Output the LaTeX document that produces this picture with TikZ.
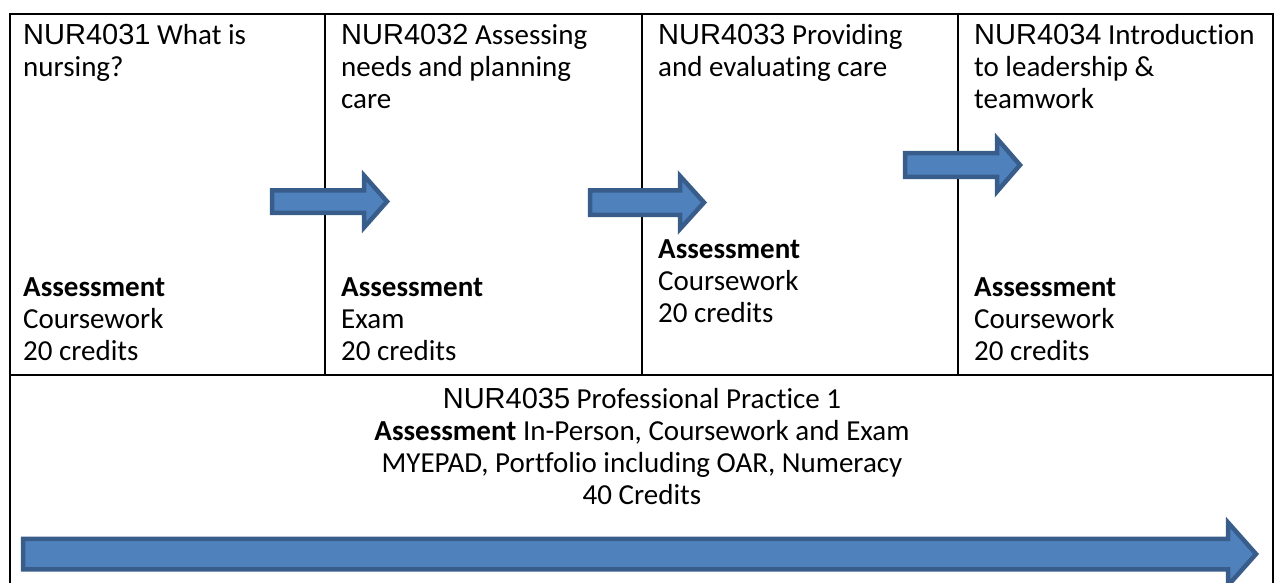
\documentclass[tikz,border=0pt]{standalone}
\usepackage{fontspec}
\setmainfont{Carlito}[Ligatures=NoCommon]
\newfontfamily\codefont{Liberation Sans}
\usepackage{tikz}

\definecolor{arrowfill}{RGB}{79,129,189}
\definecolor{arrowline}{RGB}{56,93,138}

\tikzset{
	rule/.style={line width=2pt, line cap=rect},
	cell/.style={anchor=base west, inner sep=0pt, align=left, font=\fontsize{29}{32}\selectfont},
	flow/.style={fill=arrowfill, draw=arrowline, line width=4.5pt, miter limit=10},
}

% left x, head base x, tip x, mid y, half body, half head
\newcommand{\flowarrow}[6]{%
	\draw[flow] (#1,#4-#5) -- (#2,#4-#5) -- (#2,#4-#6) -- (#3,#4)
		-- (#2,#4+#6) -- (#2,#4+#5) -- (#1,#4+#5) -- cycle;}

\begin{document}
\begin{tikzpicture}[x=1pt, y=-1pt]
	\useasboundingbox (0,0) rectangle (1277,583);
	\coordinate (tl) at (10, 14);
	\coordinate (tr) at (1273, 14);
	\coordinate (ml) at (10, 375);
	\coordinate (mr) at (1273, 375);
	\draw[rule] (10,590) -- (tl) -- (tr) -- (1273,590);
	\draw[rule] (ml) -- (mr);
	\foreach \x in {325, 642, 958}
		\draw[rule] (\x,14) -- (\x,375);
	% base = last line of each cell
	\node[cell] (m31) at (23, 77) {{\codefont NUR4031} What is\\nursing?};
	\node[cell] (m32) at (341, 109) {{\codefont NUR4032} Assessing\\needs and planning\\care};
	\node[cell] (m33) at (658, 77) {{\codefont NUR4033} Providing\\and evaluating care};
	\node[cell] (m34) at (974, 109) {{\codefont NUR4034} Introduction\\to leadership \&\\teamwork};
	%
	\node[cell] (a31) at (23, 360) {\textbf{Assessment}\\Coursework\\20 credits};
	\node[cell] (a32) at (341, 360) {\textbf{Assessment}\\Exam\\20 credits};
	\node[cell] (a33) at (658, 322) {\textbf{Assessment}\\Coursework\\20 credits};
	\node[cell] (a34) at (974, 360) {\textbf{Assessment}\\Coursework\\20 credits};
	%
	\node[cell, anchor=base, align=center] (m35) at (642, 504)
		{{\codefont NUR4035} Professional Practice 1\\\textbf{Assessment} In-Person, Coursework and Exam\\MYEPAD, Portfolio including OAR, Numeracy\\40 Credits};
	%
	\flowarrow{272}{364}{387}{201.5}{11.25}{26}
	\flowarrow{590}{680}{704}{202.5}{12.25}{26.5}
	\flowarrow{905}{997}{1020}{165}{11.75}{26.5}
	\flowarrow{23}{1228}{1256}{554}{15.25}{31.5}
\end{tikzpicture}
\end{document}
